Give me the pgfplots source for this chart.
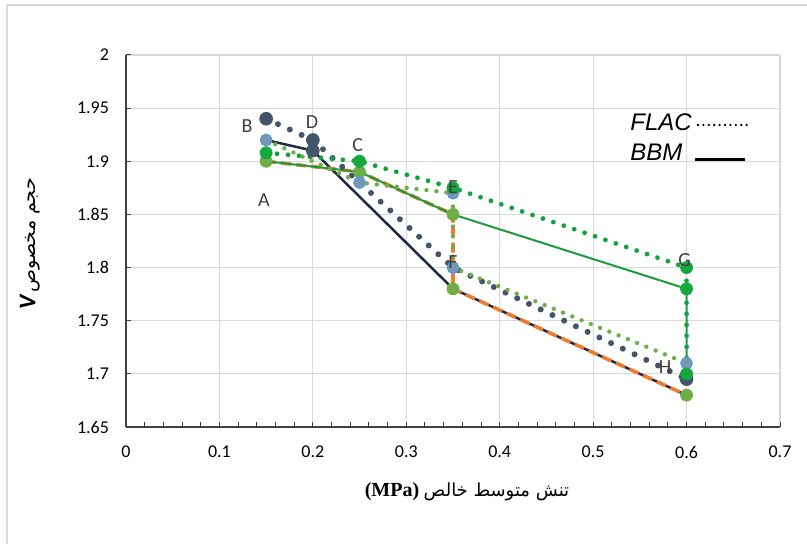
\documentclass[border=0pt]{standalone}
\usepackage{fontspec}
\usepackage{pgfplots}
\pgfplotsset{compat=1.18}
\setmainfont{Carlito}
\newfontfamily\arabicfont[Script=Arabic]{DejaVu Sans}
\newfontfamily\arialfont{Liberation Sans}
\newfontfamily\timesfont{Liberation Serif}
\TeXXeTstate=1
\definecolor{navy}{HTML}{1F2A44}
\definecolor{navymk}{HTML}{44546A}
\definecolor{orng}{HTML}{ED7D31}
\definecolor{grnline}{HTML}{1E9B3C}
\definecolor{grndot}{HTML}{12A33D}
\definecolor{grnmk}{HTML}{14A83F}
\definecolor{olive}{HTML}{70AD47}
\definecolor{bluering}{HTML}{5B9BD5}
\definecolor{bluefill}{HTML}{7D95AE}
\definecolor{gridgray}{HTML}{D9D9D9}
\definecolor{lbl}{HTML}{404040}
\begin{document}
\begin{tikzpicture}[x=0.5pt,y=0.5pt]
\useasboundingbox (0,0) rectangle (807,544);
\draw[gridgray, line width=0.8pt] (7,0) -- (7,539) -- (807,539);
\begin{axis}[
  at={(63pt,58.5pt)}, anchor=south west,
  scale only axis, width=327pt, height=186pt,
  xmin=0, xmax=0.7, ymin=1.65, ymax=2,
  xtick={0,0.1,0.2,0.3,0.4,0.5,0.6,0.7},
  ytick={1.65,1.7,1.75,1.8,1.85,1.9,1.95,2},
  minor x tick num=4,
  axis x line*=bottom, axis y line*=left,
  axis line style={color=black!75, line width=0.6pt},
  grid=major, major grid style={color=gridgray, line width=0.6pt},
  tick align=inside, major tick length=2.5pt, minor tick length=2.5pt,
  tick style={color=black!75, line width=0.5pt},
  ticklabel style={font=\fontsize{9}{10}\selectfont, color=black},
  xticklabel style={yshift=-6pt},
  yticklabel style={xshift=-5pt},
  /pgf/number format/.cd, fixed, precision=2, assume math mode=true,
]
% BBM navy solid
\addplot[navy, line width=1.25pt, no marks] coordinates {(0.15,1.92) (0.2,1.91) (0.35,1.78) (0.6,1.68)};
% orange dashed
\addplot[orng, line width=1.8pt, dash pattern=on 5pt off 2.5pt, no marks] coordinates {(0.15,1.90) (0.25,1.89) (0.35,1.85) (0.35,1.78) (0.6,1.68)};
% green solid
\addplot[grnline, line width=1pt, no marks] coordinates {(0.15,1.90) (0.25,1.89) (0.35,1.85) (0.6,1.78) (0.6,1.70)};
% navy dotted
\addplot[navymk, line width=3pt, line cap=round, dash pattern=on 0pt off 6.5pt, no marks] coordinates {(0.15,1.94) (0.2,1.92) (0.35,1.80) (0.6,1.695)};
% olive dotted
\addplot[olive, line width=2.2pt, line cap=round, dash pattern=on 0pt off 5pt, no marks] coordinates {(0.15,1.92) (0.25,1.88) (0.35,1.87) (0.35,1.80) (0.6,1.71)};
% green dotted
\addplot[grndot, line width=2.4pt, line cap=round, dash pattern=on 0pt off 5.5pt, no marks] coordinates {(0.15,1.908) (0.25,1.90) (0.35,1.875) (0.6,1.80) (0.6,1.70)};
% markers
\addplot[only marks, mark=*, mark size=3.2pt, mark options={fill=navymk, draw=navymk}] coordinates {(0.15,1.94) (0.2,1.92) (0.2,1.91) (0.6,1.695)};
\addplot[only marks, mark=*, mark size=3pt, mark options={fill=olive, draw=olive}] coordinates {(0.15,1.90) (0.25,1.89) (0.35,1.85) (0.35,1.78) (0.6,1.68)};
\addplot[only marks, mark=*, mark size=2.8pt, mark options={fill=bluefill, draw=bluering, line width=0.8pt}] coordinates {(0.15,1.92) (0.25,1.88) (0.35,1.87) (0.35,1.80) (0.6,1.71)};
\addplot[only marks, mark=*, mark size=3pt, mark options={fill=grnmk, draw=grnmk}] coordinates {(0.15,1.908) (0.25,1.90) (0.35,1.875) (0.6,1.80) (0.6,1.78) (0.6,1.70)};
% label positions
\coordinate (lA) at (axis cs:0.1477,1.8636);
\coordinate (lB) at (axis cs:0.1295,1.9332);
\coordinate (lD) at (axis cs:0.199,1.937);
\coordinate (lC) at (axis cs:0.248,1.9153);
\coordinate (lE) at (axis cs:0.350,1.8758);
\coordinate (lF) at (axis cs:0.350,1.8053);
\coordinate (lG) at (axis cs:0.598,1.807);
\coordinate (lH) at (axis cs:0.577,1.7065);
\end{axis}
\begin{scope}[every node/.style={font=\fontsize{10}{11}\selectfont, text=lbl}]
\node at (lA) {A};
\node at (lB) {B};
\node at (lD) {D};
\node at (lC) {C};
\node at (lE) {E};
\node at (lF) {F};
\node at (lG) {G};
\node at (lH) {H};
\end{scope}
% legend text boxes
\node[anchor=west, inner sep=0pt, font=\arialfont\itshape\fontsize{12}{12}\selectfont] at (630,422) {FLAC};
\node[anchor=west, inner sep=0pt, font=\arialfont\itshape\fontsize{12}{12}\selectfont] at (630,392) {BBM};
\draw[black, line width=1.3pt, line cap=round, dash pattern=on 0pt off 2.7pt] (698,419) -- (750,419);
\draw[black, line width=1.5pt] (695,384) -- (745,384);
% axis titles
\node[rotate=90, inner sep=0pt] at (30,300) {{\fontsize{12}{12}\selectfont\bfseries\itshape V}\,{\arabicfont\fontsize{9.5}{10}\selectfont\beginR حجم مخصوص\endR}};
\node[inner sep=0pt] at (467,52) {{\timesfont\bfseries\fontsize{10}{11}\selectfont (MPa)}\ {\arabicfont\fontsize{9}{10}\selectfont\beginR تنش متوسط خالص\endR}};
\end{tikzpicture}
\end{document}
